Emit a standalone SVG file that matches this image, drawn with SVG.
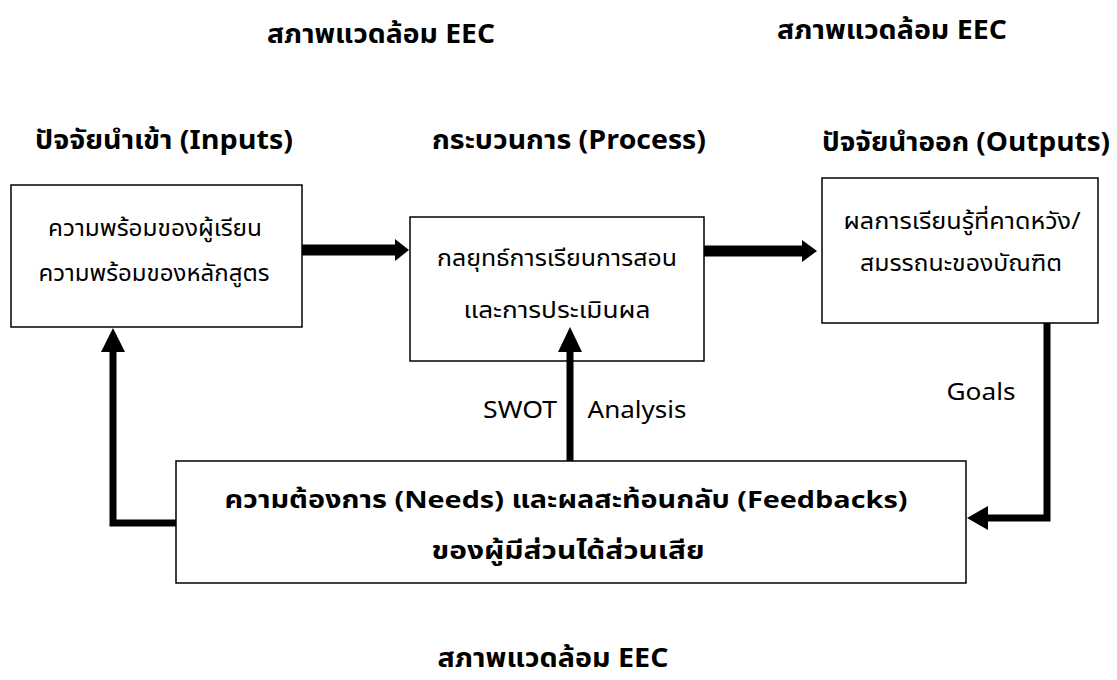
<svg xmlns="http://www.w3.org/2000/svg" width="1117" height="680" viewBox="0 0 1117 680">
<style>
.t{font-family:"Noto Sans Thai","Noto Sans","Liberation Sans",sans-serif;fill:#000;text-anchor:middle}
.h{font-size:26px;font-weight:bold}
.b{font-size:23px}
.bb{font-size:24px;font-weight:bold}
.l{font-size:24px}
.box{fill:#fff;stroke:#000;stroke-width:1.5}
.c{fill:none;stroke:#000;stroke-width:7}
.ah{fill:#000}
</style>
<rect width="1117" height="680" fill="#fff"/>
<g id="labels">
<text class="t h" x="381" y="43" textLength="228" lengthAdjust="spacingAndGlyphs">สภาพแวดล้อม EEC</text>
<text class="t h" x="892" y="39" textLength="230" lengthAdjust="spacingAndGlyphs">สภาพแวดล้อม EEC</text>
<text class="t h" x="553" y="667" textLength="231" lengthAdjust="spacingAndGlyphs">สภาพแวดล้อม EEC</text>
<text class="t h" x="164" y="149" textLength="258" lengthAdjust="spacingAndGlyphs">ปัจจัยนำเข้า (Inputs)</text>
<text class="t h" x="569" y="149" textLength="274" lengthAdjust="spacingAndGlyphs">กระบวนการ (Process)</text>
<text class="t h" x="966" y="151" textLength="288" lengthAdjust="spacingAndGlyphs">ปัจจัยนำออก (Outputs)</text>
</g>
<g id="inputs">
<rect class="box" x="11" y="185" width="291" height="142"/>
<text class="t b" x="155" y="236" textLength="214" lengthAdjust="spacingAndGlyphs">ความพร้อมของผู้เรียน</text>
<text class="t b" x="154" y="281" textLength="231" lengthAdjust="spacingAndGlyphs">ความพร้อมของหลักสูตร</text>
</g>
<g id="process">
<rect class="box" x="410" y="217" width="294" height="144"/>
<text class="t b" x="557" y="266" textLength="240" lengthAdjust="spacingAndGlyphs">กลยุทธ์การเรียนการสอน</text>
<text class="t b" x="557" y="318" textLength="187" lengthAdjust="spacingAndGlyphs">และการประเมินผล</text>
</g>
<g id="outputs">
<rect class="box" x="822" y="178" width="276" height="145"/>
<text class="t b" x="962" y="229" textLength="237" lengthAdjust="spacingAndGlyphs">ผลการเรียนรู้ที่คาดหวัง/</text>
<text class="t b" x="961" y="271" textLength="202" lengthAdjust="spacingAndGlyphs">สมรรถนะของบัณฑิต</text>
</g>
<g id="needs">
<rect class="box" x="176" y="461" width="790" height="122"/>
<text class="t bb" x="566" y="508" textLength="683" lengthAdjust="spacingAndGlyphs">ความต้องการ (Needs) และผลสะท้อนกลับ (Feedbacks)</text>
<text class="t bb" x="568" y="559" textLength="273" lengthAdjust="spacingAndGlyphs">ของผู้มีส่วนได้ส่วนเสีย</text>
</g>
<g id="connectors">
<path class="c" d="M302 250H396" style="stroke-width:11"/>
<polygon class="ah" points="395,239 409,250 395,261"/>
<path class="c" d="M704 251H803" style="stroke-width:11"/>
<polygon class="ah" points="802,240 817,251 802,262"/>
<path class="c" d="M1047 323V518H985"/>
<polygon class="ah" points="988,506 967,518 988,530"/>
<path class="c" d="M176 523H113V350"/>
<polygon class="ah" points="101,352 113,328 125,352"/>
<path class="c" d="M570 461V350"/>
<polygon class="ah" points="558,352 570,327 582,352"/>
<text class="t l" x="520" y="418" textLength="74" lengthAdjust="spacingAndGlyphs">SWOT</text>
<text class="t l" x="637" y="418" textLength="99" lengthAdjust="spacingAndGlyphs">Analysis</text>
<text class="t l" x="981" y="400" textLength="69" lengthAdjust="spacingAndGlyphs">Goals</text>
</g>
</svg>
